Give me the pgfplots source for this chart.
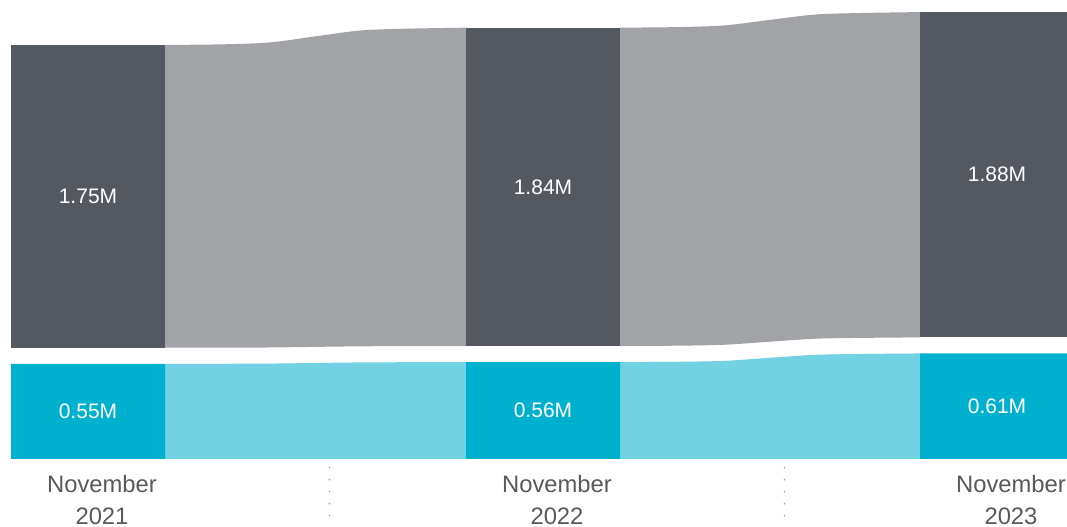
\documentclass[border=0pt]{standalone}
\usepackage{pgfplots}
\pgfplotsset{compat=1.18}
\usepgfplotslibrary{fillbetween}
\usepackage{pgfplotstable}
\usepackage{fontspec}
\setmainfont{Liberation Sans}

\definecolor{cDark}{HTML}{545861}
\definecolor{cBand}{HTML}{A2A3A7}
\definecolor{cTeal}{HTML}{00B1CF}
\definecolor{cTealL}{HTML}{72D2E3}
\definecolor{cText}{HTML}{58595B}

% values in millions; x in pixel units of the reference
\pgfplotstableread{
x   teal  dark
88  0.55  1.75
543 0.56  1.84
997 0.61  1.88
}\bars
\def\gap{0.093}

\begin{document}
\begin{tikzpicture}
\begin{axis}[
    width=533.5pt, height=263.5pt, scale only axis,
    hide axis,
    xmin=0, xmax=1067, ymin=-0.393, ymax=2.653,
]
\path (rel axis cs:0,0) (rel axis cs:1,1);

% flow bands 2021 -> 2022
\addplot[name path=gt1, draw=none, smooth] coordinates {
 (165,2.393) (225.2,2.397) (270.4,2.408) (315.5,2.443) (360.7,2.477) (405.8,2.487) (466,2.493)};
\addplot[name path=gb1, draw=none, smooth] coordinates {
 (165,0.643) (225.2,0.6434) (270.4,0.6445) (315.5,0.648) (360.7,0.6512) (405.8,0.6523) (466,0.653)};
\addplot[name path=tt1, draw=none, smooth] coordinates {
 (165,0.55) (225.2,0.5504) (270.4,0.5515) (315.5,0.555) (360.7,0.5582) (405.8,0.5593) (466,0.56)};
\addplot[name path=tb1, draw=none] coordinates {(165,0) (466,0)};
\addplot[cBand] fill between[of=gt1 and gb1];
\addplot[cTealL] fill between[of=tt1 and tb1];

% flow bands 2022 -> 2023
\addplot[name path=gt2, draw=none, smooth] coordinates {
 (620,2.493) (680,2.4965) (725,2.5063) (770,2.538) (815,2.5688) (860,2.5777) (920,2.583)};
\addplot[name path=gb2, draw=none, smooth] coordinates {
 (620,0.653) (680,0.655) (725,0.6605) (770,0.678) (815,0.695) (860,0.6999) (920,0.703)};
\addplot[name path=tt2, draw=none, smooth] coordinates {
 (620,0.56) (680,0.562) (725,0.5675) (770,0.585) (815,0.602) (860,0.6069) (920,0.61)};
\addplot[name path=tb2, draw=none] coordinates {(620,0) (920,0)};
\addplot[cBand] fill between[of=gt2 and gb2];
\addplot[cTealL] fill between[of=tt2 and tb2];

% bars: dark segment sits on teal + gap
\addplot[fill=cDark, draw=none] coordinates {(11,0.643) (165,0.643) (165,2.393) (11,2.393)} -- cycle;
\addplot[fill=cDark, draw=none] coordinates {(466,0.653) (620,0.653) (620,2.493) (466,2.493)} -- cycle;
\addplot[fill=cDark, draw=none] coordinates {(920,0.703) (1074,0.703) (1074,2.583) (920,2.583)} -- cycle;
\addplot[ybar, bar width=154, bar shift=0pt, fill=cTeal, draw=none]
  table[x=x, y=teal] {\bars};

% dotted separators
\addplot[draw=black!35, line width=0.9pt, line cap=round, dash pattern=on 0pt off 6pt]
  coordinates {(329.5,-0.050) (329.5,-0.335)};
\addplot[draw=black!35, line width=0.9pt, line cap=round, dash pattern=on 0pt off 6pt]
  coordinates {(784.5,-0.050) (784.5,-0.335)};

% value labels
\begin{scope}[every node/.style={text=white, font=\fontsize{10.5}{12}\selectfont, anchor=center}]
\node at (axis cs:88,1.518) {1.75M};
\node at (axis cs:543,1.573) {1.84M};
\node at (axis cs:997,1.643) {1.88M};
\node at (axis cs:88,0.275) {0.55M};
\node at (axis cs:543,0.28) {0.56M};
\node at (axis cs:997,0.305) {0.61M};
\end{scope}

% category labels
\begin{scope}[every node/.style={text=cText, font=\fontsize{11.9}{14}\selectfont, anchor=base, inner sep=0pt}]
\node at (axis cs:102,-0.194) {November};
\node at (axis cs:102,-0.378) {2021};
\node at (axis cs:557,-0.194) {November};
\node at (axis cs:557,-0.378) {2022};
\node at (axis cs:1011,-0.194) {November};
\node at (axis cs:1011,-0.378) {2023};
\end{scope}
\end{axis}
\end{tikzpicture}
\end{document}
